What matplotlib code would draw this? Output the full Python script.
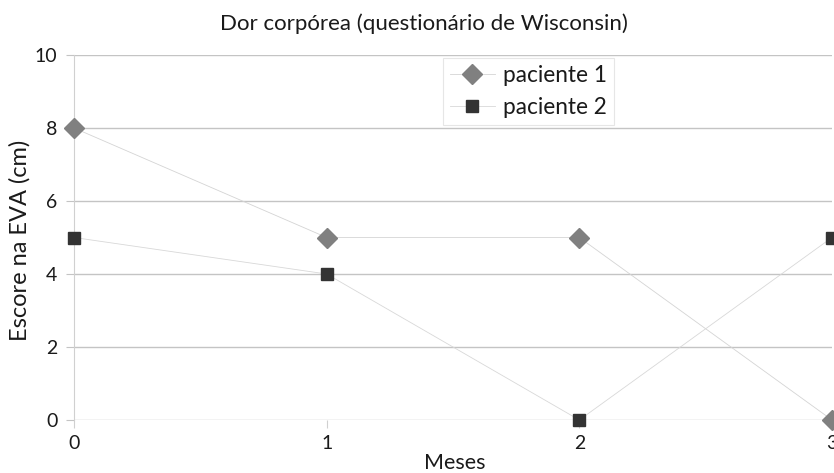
import matplotlib
matplotlib.use("Agg")
import matplotlib.pyplot as plt

months = [0, 1, 2, 3]
paciente1 = [8, 5, 5, 0]
paciente2 = [5, 4, 0, 5]
yticks = [0, 2, 4, 6, 8, 10]

plt.rcParams['font.family'] = ['Lato', 'DejaVu Sans']
TXT = '#1a1a1a'

fig = plt.figure(figsize=(8.34, 4.73), dpi=100)
ax = fig.add_axes([74/834, 1-420/473, 758/834, 365/473])
ax.set_xlim(0, 3)
ax.set_ylim(0, 10)

for y in yticks:
    ax.axhline(y, color='#c4c4c4', lw=1.0, zorder=0)

ax.plot(months, paciente1, color='#d4d4d4', lw=0.6, marker='D', ms=10.5,
        mfc='#808080', mec='#808080', clip_on=False, label='paciente 1', zorder=3)
ax.plot(months, paciente2, color='#d8d8d8', lw=0.6, marker='s', ms=9,
        mfc='#333333', mec='#333333', clip_on=False, label='paciente 2', zorder=3)

for s in ['top', 'right', 'bottom']:
    ax.spines[s].set_visible(False)
ax.spines['left'].set_color('#d0d0d0')
ax.spines['left'].set_linewidth(0.8)

ax.set_xticks(months)
ax.set_yticks(yticks)
ax.tick_params(axis='y', length=6, color='#c4c4c4', labelsize=14, pad=6, labelcolor=TXT)
ax.tick_params(axis='x', length=6, direction='out', color='#d0d0d0', labelsize=14, pad=5, labelcolor=TXT)

fig.text(20/834, 1-240/473, 'Escore na EVA (cm)', rotation=90, ha='center', va='center',
         fontsize=17, color=TXT)
fig.text(455/834, 1-463/473, 'Meses', ha='center', va='center', fontsize=15.5, color=TXT)
fig.text(424/834, 1-24/473, 'Dor corpórea (questionário de Wisconsin)', ha='center', va='center',
         fontsize=16, color=TXT)

leg = ax.legend(loc='upper left', bbox_to_anchor=(443/834, 1-58/473), bbox_transform=fig.transFigure,
                borderaxespad=0, frameon=True, fancybox=False, fontsize=16.3, handlelength=2.0,
                handletextpad=0.35, borderpad=0.3, labelspacing=0.5, edgecolor='#e0e0e0')
leg.get_frame().set_linewidth(0.8)
for t in leg.get_texts():
    t.set_color(TXT)

fig.savefig('out.png', dpi=100)
